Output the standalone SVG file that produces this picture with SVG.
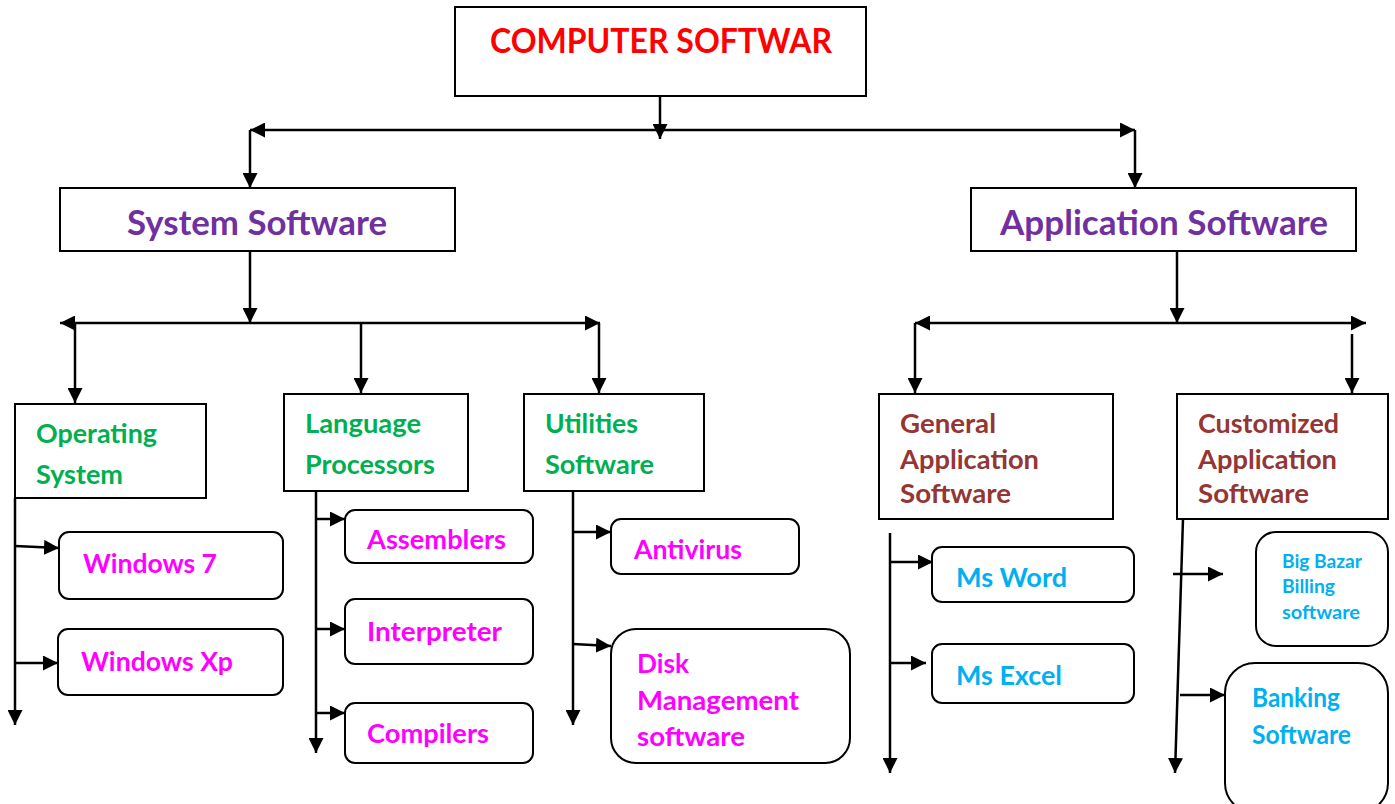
<svg xmlns="http://www.w3.org/2000/svg" width="1395" height="804" viewBox="0 0 1395 804">
<style>
.box{fill:#fff;stroke:#000;stroke-width:2}
.ln{fill:none;stroke:#000;stroke-width:2.5}
.a{marker-end:url(#ah)}
.aa{marker-end:url(#ah);marker-start:url(#ahs)}
text{font-family:Lato,"Liberation Sans",sans-serif;font-weight:bold}
.t1{fill:#FF0000;font-size:34px}
.t2{fill:#7030A0;font-size:34px}
.t3{fill:#00B050;font-size:27px}
.t4{fill:#FF00FF;font-size:27px}
.t5{fill:#943634;font-size:27px}
.t6{fill:#00B0F0;font-size:27px}
.t7{fill:#00B0F0;font-size:18px}
</style>
<defs>
<marker id="ah" markerUnits="userSpaceOnUse" markerWidth="15" markerHeight="15" viewBox="0 0 15 15" refX="15" refY="7.5" orient="auto"><path d="M0,0 L15,7.5 L0,15 z" fill="#000"/></marker>
<marker id="ahs" markerUnits="userSpaceOnUse" markerWidth="15" markerHeight="15" viewBox="0 0 15 15" refX="15" refY="7.5" orient="auto-start-reverse"><path d="M0,0 L15,7.5 L0,15 z" fill="#000"/></marker>
</defs>
<g id="connectors">
<line class="ln a" x1="660" y1="68" x2="660" y2="139"/>
<line class="ln aa" x1="250" y1="130" x2="1135" y2="130"/>
<line class="ln a" x1="250" y1="130" x2="250" y2="188"/>
<line class="ln a" x1="1135" y1="130" x2="1135" y2="188"/>
<line class="ln a" x1="250" y1="251" x2="250" y2="323"/>
<line class="ln aa" x1="60" y1="323" x2="600" y2="323"/>
<line class="ln a" x1="75" y1="323" x2="75" y2="403"/>
<line class="ln a" x1="361" y1="323" x2="361" y2="393"/>
<line class="ln a" x1="599" y1="323" x2="599" y2="393"/>
<line class="ln a" x1="1177" y1="251" x2="1177" y2="323"/>
<line class="ln aa" x1="915" y1="323" x2="1366" y2="323"/>
<line class="ln a" x1="915" y1="323" x2="915" y2="393"/>
<line class="ln a" x1="1352" y1="334" x2="1352" y2="393"/>
<line class="ln a" x1="15" y1="498" x2="15" y2="725"/>
<line class="ln a" x1="15" y1="546" x2="59" y2="548"/>
<line class="ln a" x1="15" y1="663" x2="58" y2="663"/>
<line class="ln a" x1="316" y1="491" x2="316" y2="753"/>
<line class="ln a" x1="316" y1="519" x2="345" y2="519"/>
<line class="ln a" x1="316" y1="629" x2="345" y2="629"/>
<line class="ln a" x1="316" y1="713" x2="345" y2="713"/>
<line class="ln a" x1="573" y1="491" x2="573" y2="725"/>
<line class="ln a" x1="573" y1="532" x2="611" y2="532"/>
<line class="ln a" x1="573" y1="644" x2="611" y2="646"/>
<line class="ln a" x1="890" y1="533" x2="890" y2="773"/>
<line class="ln a" x1="890" y1="562" x2="933" y2="562"/>
<line class="ln a" x1="890" y1="663" x2="926" y2="663"/>
<line class="ln a" x1="1183" y1="519" x2="1175" y2="773"/>
<line class="ln a" x1="1173" y1="574" x2="1223" y2="574"/>
<line class="ln a" x1="1180" y1="695" x2="1225" y2="695"/>
</g>
<g id="computer-software"><rect class="box" x="455" y="7" width="411" height="89"/><text class="t1" x="490" y="53" textLength="342" lengthAdjust="spacingAndGlyphs">COMPUTER SOFTWAR</text></g>
<g id="system-software"><rect class="box" x="60" y="188" width="395" height="63"/><text class="t2" x="127" y="235" textLength="260" lengthAdjust="spacingAndGlyphs">System Software</text></g>
<g id="application-software"><rect class="box" x="971" y="188" width="385" height="63"/><text class="t2" x="1000" y="235" textLength="328" lengthAdjust="spacingAndGlyphs">Application Software</text></g>
<g id="operating-system"><rect class="box" x="15" y="404" width="191" height="94"/><text class="t3" x="36" y="443" textLength="121" lengthAdjust="spacingAndGlyphs">Operating</text><text class="t3" x="36" y="484" textLength="87" lengthAdjust="spacingAndGlyphs">System</text></g>
<g id="language-processors"><rect class="box" x="284" y="394" width="184" height="97"/><text class="t3" x="305" y="433" textLength="116" lengthAdjust="spacingAndGlyphs">Language</text><text class="t3" x="305" y="474" textLength="130" lengthAdjust="spacingAndGlyphs">Processors</text></g>
<g id="utilities-software"><rect class="box" x="524" y="394" width="180" height="97"/><text class="t3" x="545" y="433" textLength="93" lengthAdjust="spacingAndGlyphs">Utilities</text><text class="t3" x="545" y="474" textLength="109" lengthAdjust="spacingAndGlyphs">Software</text></g>
<g id="windows-7"><rect class="box" x="59" y="532" width="224" height="67" rx="10"/><text class="t4" x="83" y="573" textLength="134" lengthAdjust="spacingAndGlyphs">Windows 7</text></g>
<g id="windows-xp"><rect class="box" x="58" y="629" width="225" height="66" rx="10"/><text class="t4" x="81" y="671" textLength="152" lengthAdjust="spacingAndGlyphs">Windows Xp</text></g>
<g id="assemblers"><rect class="box" x="345" y="510" width="188" height="53" rx="10"/><text class="t4" x="367" y="549" textLength="139" lengthAdjust="spacingAndGlyphs">Assemblers</text></g>
<g id="interpreter"><rect class="box" x="345" y="599" width="188" height="65" rx="10"/><text class="t4" x="367" y="641" textLength="135" lengthAdjust="spacingAndGlyphs">Interpreter</text></g>
<g id="compilers"><rect class="box" x="345" y="703" width="188" height="60" rx="10"/><text class="t4" x="367" y="743" textLength="122" lengthAdjust="spacingAndGlyphs">Compilers</text></g>
<g id="antivirus"><rect class="box" x="611" y="519" width="188" height="55" rx="10"/><text class="t4" x="634" y="559" textLength="108" lengthAdjust="spacingAndGlyphs">Antivirus</text></g>
<g id="disk-management"><rect class="box" x="611" y="629" width="239" height="134" rx="25"/><text class="t4" x="637" y="673" textLength="52" lengthAdjust="spacingAndGlyphs">Disk</text><text class="t4" x="637" y="710" textLength="162" lengthAdjust="spacingAndGlyphs">Management</text><text class="t4" x="637" y="746" textLength="108" lengthAdjust="spacingAndGlyphs">software</text></g>
<g id="general-application"><rect class="box" x="879" y="394" width="234" height="125"/><text class="t5" x="900" y="433" textLength="96" lengthAdjust="spacingAndGlyphs">General</text><text class="t5" x="900" y="469" textLength="139" lengthAdjust="spacingAndGlyphs">Application</text><text class="t5" x="900" y="503" textLength="111" lengthAdjust="spacingAndGlyphs">Software</text></g>
<g id="customized-application"><rect class="box" x="1177" y="394" width="211" height="125"/><text class="t5" x="1198" y="433" textLength="141" lengthAdjust="spacingAndGlyphs">Customized</text><text class="t5" x="1198" y="469" textLength="139" lengthAdjust="spacingAndGlyphs">Application</text><text class="t5" x="1198" y="503" textLength="111" lengthAdjust="spacingAndGlyphs">Software</text></g>
<g id="ms-word"><rect class="box" x="932" y="547" width="202" height="55" rx="10"/><text class="t6" x="956" y="587" textLength="111" lengthAdjust="spacingAndGlyphs">Ms Word</text></g>
<g id="ms-excel"><rect class="box" x="932" y="644" width="202" height="59" rx="10"/><text class="t6" x="956" y="685" textLength="106" lengthAdjust="spacingAndGlyphs">Ms Excel</text></g>
<g id="big-bazar"><rect class="box" x="1256" y="532" width="132" height="114" rx="20"/><text class="t7" x="1282" y="568" textLength="80" lengthAdjust="spacingAndGlyphs">Big Bazar</text><text class="t7" x="1282" y="593" textLength="53" lengthAdjust="spacingAndGlyphs">Billing</text><text class="t7" x="1282" y="619" textLength="78" lengthAdjust="spacingAndGlyphs">software</text></g>
<g id="banking-software"><rect class="box" x="1225" y="663" width="163" height="150" rx="30"/><text class="t6" x="1252" y="707" textLength="88" lengthAdjust="spacingAndGlyphs">Banking</text><text class="t6" x="1252" y="744" textLength="99" lengthAdjust="spacingAndGlyphs">Software</text></g>
</svg>
